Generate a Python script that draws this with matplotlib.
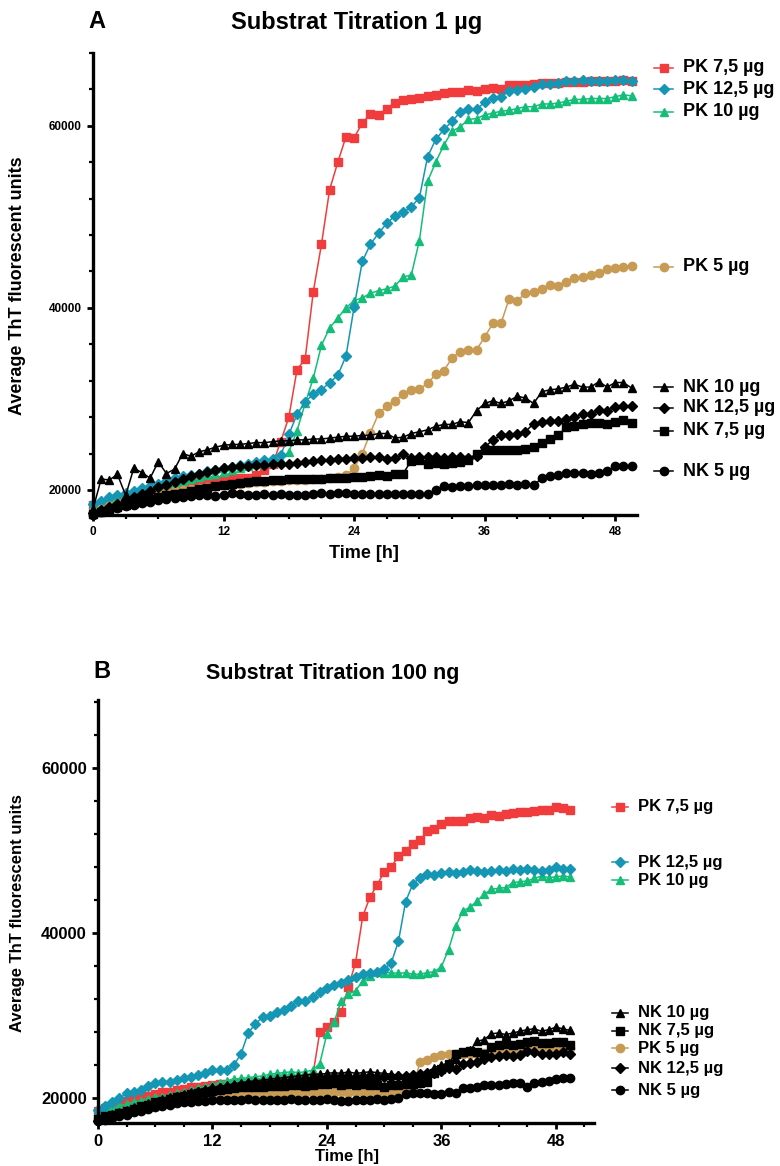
import matplotlib
matplotlib.use('Agg')
import matplotlib.pyplot as plt
from matplotlib.lines import Line2D
from matplotlib.ticker import MultipleLocator
import numpy as np

plt.rcParams['font.family'] = ['Liberation Sans', 'DejaVu Sans']
plt.rcParams['font.weight'] = 'bold'

# readings every 45 min, 0 .. 49.5 h
time_h = np.arange(67) * 0.75

# ---- A: substrate 1 µg ----
a_pk75 = [18300, 18500, 18800, 19000, 19300, 19500, 19700, 19900, 20100, 20300,
          20500, 20600, 20800, 20900, 21000, 21100, 21200, 21300, 21300, 21300,
          21600, 22200, 22800, 25300, 28000, 33200, 34400, 41800, 47000, 53000,
          56000, 58800, 58700, 60300, 61300, 61200, 61900, 62500, 62800, 62900,
          63100, 63300, 63400, 63600, 63700, 63700, 63900, 63800, 64000, 64200,
          64100, 64500, 64500, 64500, 64600, 64700, 64700, 64700, 64800, 64800,
          64800, 64900, 64900, 64900, 64900, 65000, 64900]
a_pk125 = [18500, 18800, 19200, 19400, 19700, 19900, 20200, 20400, 20700, 21000,
           21300, 21500, 21600, 21800, 22100, 22200, 22400, 22500, 22700, 22900,
           23100, 23300, 23400, 23800, 26100, 28300, 29700, 30500, 31000, 31800,
           32600, 34700, 40100, 45100, 47000, 48200, 49300, 50100, 50500, 51100,
           52100, 56600, 58500, 59600, 60500, 61500, 61800, 61800, 62600, 63100,
           63200, 63800, 63900, 64100, 64300, 64600, 64600, 64700, 64900, 64900,
           65000, 64900, 64900, 64900, 65000, 65000, 64900]
a_pk10 = [18400, 18700, 19000, 19200, 19400, 19700, 19900, 20100, 20300, 20500,
          20800, 21000, 21200, 21400, 21600, 21800, 22000, 22200, 22400, 22600,
          22800, 23000, 23100, 23300, 24200, 26500, 29500, 32300, 35900, 37800,
          38900, 40000, 40800, 41100, 41600, 41900, 42100, 42400, 43400, 43600,
          47400, 53900, 56000, 57900, 59400, 59900, 60700, 60800, 61200, 61400,
          61600, 61700, 61900, 62100, 62100, 62400, 62400, 62500, 62700, 62900,
          62900, 63000, 63000, 63000, 63200, 63400, 63300]
a_pk5 = [17600, 17900, 18200, 18500, 18800, 19000, 19200, 19400, 19600, 19800,
         19900, 20000, 20100, 20200, 20300, 20400, 20500, 20600, 20700, 20800,
         20900, 20900, 21000, 21000, 21100, 21100, 21100, 21200, 21200, 21300,
         21400, 21600, 22400, 24000, 26300, 28400, 29200, 29800, 30500, 31000,
         31100, 31700, 32700, 33100, 34500, 35200, 35400, 35400, 36800, 38300,
         38300, 41000, 40800, 41600, 41700, 42100, 42500, 42400, 42800, 43300,
         43400, 43600, 43800, 44300, 44400, 44500, 44600]
a_nk10 = [17900, 21200, 21100, 21700, 19400, 22400, 21900, 21300, 23100, 21800,
          22300, 24000, 23700, 24200, 24400, 24700, 24900, 25000, 25000, 25100,
          25200, 25200, 25300, 25400, 25400, 25500, 25500, 25600, 25600, 25700,
          25800, 25900, 25900, 26000, 26000, 26200, 26200, 25700, 25800, 26200,
          26400, 26600, 27000, 27200, 27200, 27500, 27400, 28700, 29500, 29800,
          29500, 29800, 30300, 30100, 29500, 30800, 31000, 31100, 31300, 31600,
          31300, 31300, 31900, 31300, 31800, 31800, 31200]
a_nk125 = [17500, 17800, 18100, 18500, 18900, 19200, 19600, 19900, 20300, 20600,
           20900, 21200, 21500, 21800, 22000, 22200, 22400, 22500, 22600, 22600,
           22700, 22700, 22800, 22900, 22900, 23000, 23100, 23200, 23300, 23300,
           23400, 23400, 23500, 23500, 23600, 23600, 23400, 23500, 23900, 23500,
           23600, 23600, 23600, 23500, 23600, 23600, 23500, 23700, 24700, 25500,
           26000, 26000, 26200, 26400, 27300, 27500, 27600, 27600, 27800, 28000,
           28300, 28300, 28800, 28700, 29100, 29200, 29200]
a_nk75 = [17400, 17600, 17800, 18100, 18300, 18600, 18800, 19000, 19200, 19400,
          19600, 19700, 19900, 20100, 20200, 20400, 20500, 20700, 20800, 20900,
          21000, 21000, 21100, 21100, 21200, 21200, 21200, 21200, 21200, 21300,
          21300, 21300, 21400, 21400, 21500, 21600, 21500, 21700, 21800, 23200,
          23300, 22900, 23000, 22900, 23000, 23100, 23300, 24000, 24400, 24400,
          24400, 24400, 24400, 24500, 24700, 25200, 25600, 26000, 26900, 27000,
          27200, 27400, 27400, 27300, 27500, 27700, 27400]
a_nk5 = [17300, 17600, 17800, 18000, 18200, 18400, 18600, 18700, 18900, 19000,
         19100, 19200, 19300, 19400, 19400, 19300, 19500, 19700, 19600, 19500,
         19500, 19600, 19500, 19600, 19500, 19500, 19500, 19600, 19700, 19600,
         19700, 19700, 19600, 19600, 19600, 19600, 19600, 19600, 19600, 19600,
         19600, 19600, 20000, 20400, 20300, 20400, 20400, 20500, 20500, 20600,
         20600, 20700, 20600, 20700, 20500, 21300, 21500, 21600, 21900, 21900,
         21900, 21800, 21900, 22100, 22600, 22600, 22600]

# ---- B: substrate 100 ng ----
b_pk75 = [18500, 18800, 19100, 19400, 19700, 19900, 20100, 20300, 20500, 20700,
          20800, 21000, 21100, 21300, 21400, 21500, 21600, 21700, 21700, 21800,
          21900, 21900, 22000, 22000, 22100, 22100, 22200, 22200, 22200, 22300,
          22600, 28000, 28600, 29200, 30400, 33500, 36400, 42000, 44300, 45800,
          47400, 48000, 49300, 49900, 50800, 51200, 52300, 52600, 53200, 53500,
          53500, 53600, 53900, 54000, 53900, 54300, 54200, 54400, 54500, 54600,
          54700, 54800, 54900, 54900, 55200, 55100, 54900]
b_pk125 = [18600, 19000, 19600, 20000, 20600, 20800, 21000, 21500, 21800, 22000,
           22000, 22200, 22400, 22600, 22800, 23000, 23400, 23400, 23400, 24000,
           25400, 27900, 29000, 29800, 30000, 30400, 30700, 31200, 31800, 31800,
           32300, 32800, 33400, 33700, 34000, 34300, 34700, 35000, 35200, 35300,
           35600, 36400, 39000, 43800, 45900, 46700, 47100, 47000, 47200, 47400,
           47300, 47400, 47600, 47500, 47400, 47500, 47600, 47500, 47700, 47600,
           47800, 47600, 47500, 47600, 48000, 47700, 47800]
b_pk10 = [18400, 18700, 18900, 19100, 19300, 19500, 19700, 19900, 20100, 20200,
          20400, 20600, 20800, 21000, 21200, 21400, 21600, 21900, 22100, 22300,
          22400, 22500, 22600, 22700, 22900, 23000, 23100, 23200, 23100, 23200,
          23400, 24200, 27800, 29200, 31800, 32600, 33000, 34200, 34800, 35300,
          35200, 35200, 35100, 35200, 35000, 35000, 35200, 35300, 35900, 38000,
          40800, 42700, 43100, 43900, 44700, 45300, 45400, 45500, 46100, 46200,
          46300, 46600, 46900, 46700, 46800, 46900, 46800]
b_pk5 = [17500, 17700, 17900, 18100, 18400, 18600, 18800, 19000, 19200, 19400,
         19600, 19800, 19900, 20000, 20100, 20200, 20200, 20300, 20300, 20400,
         20400, 20500, 20500, 20500, 20600, 20600, 20600, 20600, 20700, 20600,
         20600, 20700, 20600, 20700, 20700, 20600, 20700, 20700, 20600, 20500,
         20600, 20700, 20800, 20900, 21000, 24400, 24600, 25000, 25200, 25300,
         25400, 25300, 25300, 25400, 25500, 25600, 25600, 25700, 25900, 25800,
         26000, 26200, 26200, 26200, 26100, 26200, 26100]
b_nk10 = [17600, 17900, 18100, 18300, 18600, 18900, 19100, 19400, 19600, 19900,
          20100, 20300, 20500, 20700, 20900, 21100, 21300, 21400, 21600, 21700,
          21900, 22000, 22100, 22200, 22300, 22400, 22500, 22600, 22700, 22800,
          22900, 22900, 23000, 23100, 23000, 23200, 23000, 23100, 23200, 23100,
          23000, 22900, 22800, 22700, 22800, 22900, 23100, 23700, 24000, 24300,
          24800, 25600, 25800, 26900, 27100, 27800, 27900, 27700, 27900, 28100,
          28300, 28400, 28100, 28300, 28600, 28400, 28200]
b_nk75 = [17500, 17800, 18000, 18200, 18500, 18700, 19000, 19200, 19500, 19700,
          19900, 20100, 20300, 20500, 20600, 20800, 20900, 21000, 21100, 21200,
          21300, 21300, 21400, 21400, 21500, 21500, 21500, 21600, 21600, 21500,
          21600, 21700, 21700, 21800, 21600, 21700, 21600, 21700, 21600, 21600,
          21400, 21600, 21600, 21700, 21700, 21900, 22000, 23000, 23500, 24200,
          25400, 25600, 25700, 25600, 25400, 26200, 26500, 26600, 26500, 26600,
          26800, 26900, 26700, 26700, 26800, 26800, 26500]
b_nk125 = [17300, 17500, 17800, 18000, 18300, 18600, 18900, 19100, 19400, 19600,
           19900, 20100, 20300, 20500, 20700, 20900, 21100, 21200, 21400, 21500,
           21600, 21700, 21800, 21800, 21900, 21900, 22000, 22000, 22100, 22100,
           22200, 22200, 22300, 22300, 22400, 22400, 22500, 22400, 22500, 22500,
           22600, 22600, 22700, 22700, 22800, 22900, 23000, 23100, 23300, 23600,
           23500, 24200, 24300, 24400, 24700, 25000, 25100, 25200, 25100, 25200,
           25700, 25600, 25300, 25300, 25400, 25600, 25300]
b_nk5 = [17200, 17400, 17600, 17800, 18000, 18300, 18500, 18700, 18900, 19100,
         19200, 19400, 19500, 19600, 19700, 19700, 19800, 19800, 19800, 19800,
         19800, 19900, 19800, 19800, 19800, 19800, 19800, 19900, 19800, 19800,
         19800, 19800, 19900, 19800, 19700, 19700, 19800, 19800, 19800, 19900,
         19800, 19900, 20000, 20500, 20600, 20600, 20600, 20500, 20500, 20700,
         20600, 21200, 21200, 21400, 21600, 21600, 21600, 21700, 21800, 21800,
         21400, 21900, 22000, 22100, 22300, 22400, 22400]

RED, TEAL, GREEN, TAN, BLK = '#f03c3c', '#1496b4', '#14be78', '#c89b55', 'black'

# (label, data, colour, marker) in drawing order
panel_a = [('PK 7,5 µg', a_pk75, RED, 's'), ('PK 10 µg', a_pk10, GREEN, '^'),
           ('PK 12,5 µg', a_pk125, TEAL, 'D'), ('PK 5 µg', a_pk5, TAN, 'o'),
           ('NK 7,5 µg', a_nk75, BLK, 's'), ('NK 5 µg', a_nk5, BLK, 'o'),
           ('NK 12,5 µg', a_nk125, BLK, 'D'), ('NK 10 µg', a_nk10, BLK, '^')]
panel_b = [('PK 7,5 µg', b_pk75, RED, 's'), ('PK 10 µg', b_pk10, GREEN, '^'),
           ('PK 12,5 µg', b_pk125, TEAL, 'D'), ('PK 5 µg', b_pk5, TAN, 'o'),
           ('NK 7,5 µg', b_nk75, BLK, 's'), ('NK 5 µg', b_nk5, BLK, 'o'),
           ('NK 12,5 µg', b_nk125, BLK, 'D'), ('NK 10 µg', b_nk10, BLK, '^')]

# label rows (pixel y) next to the curves
labels_a_y = {'PK 7,5 µg': 68, 'PK 12,5 µg': 89, 'PK 10 µg': 112, 'PK 5 µg': 267,
              'NK 10 µg': 387, 'NK 12,5 µg': 408, 'NK 7,5 µg': 431, 'NK 5 µg': 471}
labels_b_y = {'PK 7,5 µg': 807, 'PK 12,5 µg': 862, 'PK 10 µg': 880, 'NK 10 µg': 1013,
              'NK 7,5 µg': 1031, 'PK 5 µg': 1048, 'NK 12,5 µg': 1068, 'NK 5 µg': 1090}

W, H = 780, 1166
fig = plt.figure(figsize=(W / 100, H / 100), dpi=100)

def fx(px): return px / W
def fy(py): return 1 - py / H

MSIZE = {'s': 5.5, 'D': 5.0, '^': 6.0, 'o': 6.0}

def draw(ax, series, xlim, ylim, tick_fs):
    for name, vals, col, mk in series:
        ax.plot(time_h, vals, color=col, lw=1.1, marker=mk, ms=MSIZE[mk],
                mec=col, mfc=col, clip_on=False)
    ax.set_xlim(*xlim)
    ax.set_ylim(*ylim)
    for s in ['top', 'right']:
        ax.spines[s].set_visible(False)
    for s in ['left', 'bottom']:
        ax.spines[s].set_linewidth(2.4)
    ax.xaxis.set_major_locator(MultipleLocator(12))
    ax.xaxis.set_minor_locator(MultipleLocator(3))
    ax.yaxis.set_major_locator(MultipleLocator(20000))
    ax.yaxis.set_minor_locator(MultipleLocator(4000))
    ax.tick_params(which='major', length=4, width=2, labelsize=tick_fs, pad=4)
    ax.tick_params(which='minor', length=3, width=1.6)
    for t in ax.get_xticklabels() + ax.get_yticklabels():
        t.set_fontweight('bold')

def side_labels(series, ys, x_line0, x_line1, x_text, fs):
    for name, vals, col, mk in series:
        y = fy(ys[name])
        xm = (x_line0 + x_line1) / 2
        fig.add_artist(Line2D([fx(x_line0), fx(xm), fx(x_line1)], [y, y, y],
                              color=col, lw=1.1, marker=mk, ms=MSIZE[mk],
                              mec=col, mfc=col, markevery=[1],
                              transform=fig.transFigure))
        fig.text(fx(x_text), y, name, fontsize=fs, fontweight='bold',
                 va='center', ha='left')

# panel A
ax1 = fig.add_axes([fx(93), fy(515), fx(637) - fx(93), (515 - 53) / H])
draw(ax1, panel_a, (0, 50), (17250, 68000), 8.5)
ax1.set_yticks([20000, 40000, 60000])
ax1.set_xticks([0, 12, 24, 36, 48])
side_labels(panel_a, labels_a_y, 654, 673, 683, 13)
fig.text(fx(97), fy(22), 'A', fontsize=17, fontweight='bold', ha='center', va='center')
fig.text(fx(357), fy(22), 'Substrat Titration 1 µg', fontsize=17, fontweight='bold',
         ha='center', va='center')
fig.text(fx(18), fy(286), 'Average ThT fluorescent units', fontsize=13,
         fontweight='bold', rotation=90, ha='center', va='center')
fig.text(fx(364), fy(553), 'Time [h]', fontsize=13, fontweight='bold',
         ha='center', va='center')

# panel B
ax2 = fig.add_axes([fx(98), fy(1123), fx(594) - fx(98), (1123 - 700) / H])
draw(ax2, panel_b, (0, 52), (17000, 68200), 12)
ax2.set_yticks([20000, 40000, 60000])
ax2.set_xticks([0, 12, 24, 36, 48])
side_labels(panel_b, labels_b_y, 612, 628, 638, 12)
fig.text(fx(102), fy(672), 'B', fontsize=17, fontweight='bold', ha='center', va='center')
fig.text(fx(333), fy(673), 'Substrat Titration 100 ng', fontsize=15.5, fontweight='bold',
         ha='center', va='center')
fig.text(fx(18), fy(913), 'Average ThT fluorescent units', fontsize=12,
         fontweight='bold', rotation=90, ha='center', va='center')
fig.text(fx(347), fy(1157), 'Time [h]', fontsize=12, fontweight='bold',
         ha='center', va='center')

fig.savefig('out.png', dpi=100)
